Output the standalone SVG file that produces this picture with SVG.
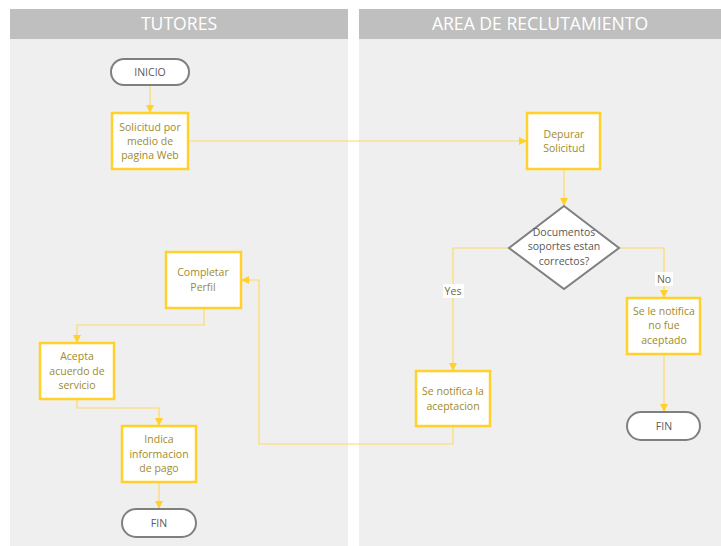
<svg xmlns="http://www.w3.org/2000/svg" width="721" height="546" viewBox="0 0 721 546">
  <style>
    .lane { fill: #efefef; }
    .head { fill: #bfbfbf; }
    .headtxt { font-family: "Open Sans", "Noto Sans", sans-serif; font-size: 17.6px; fill: #ffffff; text-anchor: middle; }
    .box { fill: #ffffff; stroke: #ffd12a; stroke-width: 2.5; }
    .term { fill: #ffffff; stroke: #7f7f7f; stroke-width: 2; }
    .txt { font-family: "Open Sans", "Noto Sans", sans-serif; font-size: 10.5px; fill: #a08a2c; text-anchor: middle; }
    .ttxt { font-family: "Open Sans", "Noto Sans", sans-serif; font-size: 10.5px; fill: #595959; text-anchor: middle; }
    .conn { fill: none; stroke: #ffd966; stroke-width: 1.2; marker-end: url(#arr); }
    .lbl { font-family: "Open Sans", "Noto Sans", sans-serif; font-size: 10.5px; fill: #6b6440; text-anchor: middle; }
  </style>
  <defs>
    <marker id="arr" viewBox="0 0 10 10" refX="10" refY="5" markerWidth="8" markerHeight="8" markerUnits="userSpaceOnUse" orient="auto">
      <path d="M0,0 L10,5 L0,10 z" fill="#ffd12a"/>
    </marker>
  </defs>
  <rect width="721" height="546" fill="#ffffff"/>

  <!-- swimlanes -->
  <g id="lane-tutores">
    <rect class="lane" x="10" y="9" width="338" height="537"/>
    <rect class="head" x="10" y="9" width="338" height="30"/>
    <text class="headtxt" x="179" y="30">TUTORES</text>
  </g>
  <g id="lane-reclutamiento">
    <rect class="lane" x="359" y="9" width="362" height="537"/>
    <rect class="head" x="359" y="9" width="362" height="30"/>
    <text class="headtxt" x="540" y="30">AREA DE RECLUTAMIENTO</text>
  </g>

  <!-- connectors -->
  <g id="connectors">
    <path class="conn" d="M150,85 V113"/>
    <path class="conn" d="M188,141 H527"/>
    <path class="conn" d="M564,169 V206"/>
    <path class="conn" d="M509,248 H453 V371"/>
    <path class="conn" d="M619,248 H664 V298"/>
    <path class="conn" d="M664,354 V412"/>
    <path class="conn" d="M453,426 V444 H259 V280 H241"/>
    <path class="conn" d="M204,308 V325 H77 V343"/>
    <path class="conn" d="M77,399 V408 H159 V426"/>
    <path class="conn" d="M159,482 V509"/>
    <rect x="443" y="284" width="21" height="14" fill="#ffffff"/>
    <text class="lbl" x="453" y="295">Yes</text>
    <rect x="655" y="272" width="18" height="14" fill="#ffffff"/>
    <text class="lbl" x="664" y="283">No</text>
  </g>

  <!-- nodes -->
  <g id="inicio">
    <rect class="term" x="111" y="59" width="78" height="26" rx="13"/>
    <text class="ttxt" x="150" y="76">INICIO</text>
  </g>
  <g id="solicitud">
    <rect class="box" x="112" y="113" width="76" height="56"/>
    <text class="txt" x="150" y="131">Solicitud por</text>
    <text class="txt" x="150" y="145">medio de</text>
    <text class="txt" x="150" y="159">pagina Web</text>
  </g>
  <g id="depurar">
    <rect class="box" x="527" y="113" width="73" height="56"/>
    <text class="txt" x="564" y="138">Depurar</text>
    <text class="txt" x="564" y="152">Solicitud</text>
  </g>
  <g id="decision">
    <polygon class="term" points="564,206 619,248 564,289 509,248"/>
    <text class="ttxt" x="564" y="236">Documentos</text>
    <text class="ttxt" x="564" y="250">soportes estan</text>
    <text class="ttxt" x="564" y="265">correctos?</text>
  </g>
  <g id="no-aceptado">
    <rect class="box" x="627" y="298" width="73" height="56"/>
    <text class="txt" x="664" y="315">Se le notifica</text>
    <text class="txt" x="664" y="329">no fue</text>
    <text class="txt" x="664" y="344">aceptado</text>
  </g>
  <g id="fin-reclutamiento">
    <rect class="term" x="627" y="412" width="73" height="28" rx="14"/>
    <text class="ttxt" x="664" y="430">FIN</text>
  </g>
  <g id="aceptacion">
    <rect class="box" x="416" y="371" width="74" height="55"/>
    <text class="txt" x="453" y="395">Se notifica la</text>
    <text class="txt" x="453" y="410">aceptacion</text>
  </g>
  <g id="completar">
    <rect class="box" x="166" y="252" width="75" height="56"/>
    <text class="txt" x="203" y="276">Completar</text>
    <text class="txt" x="203" y="291">Perfil</text>
  </g>
  <g id="acepta">
    <rect class="box" x="40" y="343" width="74" height="56"/>
    <text class="txt" x="77" y="360">Acepta</text>
    <text class="txt" x="77" y="375">acuerdo de</text>
    <text class="txt" x="77" y="389">servicio</text>
  </g>
  <g id="indica">
    <rect class="box" x="122" y="426" width="74" height="56"/>
    <text class="txt" x="159" y="443">Indica</text>
    <text class="txt" x="159" y="458">informacion</text>
    <text class="txt" x="159" y="472">de pago</text>
  </g>
  <g id="fin-tutores">
    <rect class="term" x="122" y="509" width="74" height="28" rx="14"/>
    <text class="ttxt" x="159" y="527">FIN</text>
  </g>
</svg>
